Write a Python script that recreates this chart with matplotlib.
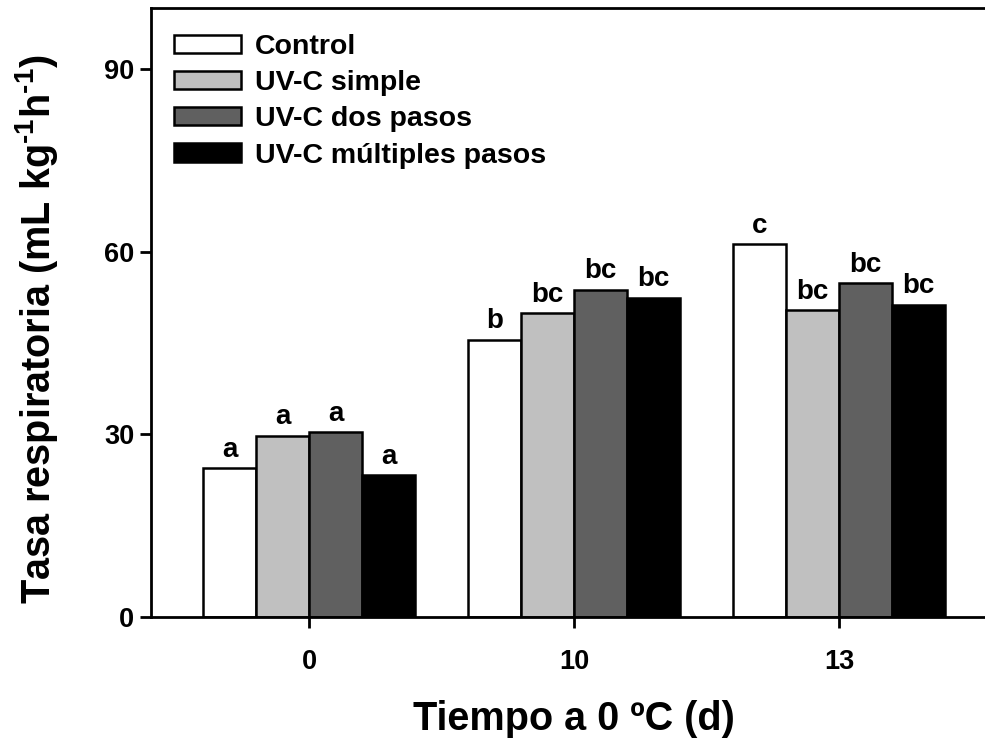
import matplotlib
matplotlib.use("Agg")
import matplotlib.pyplot as plt
import numpy as np

plt.rcParams['font.family'] = ['Liberation Sans', 'DejaVu Sans']
plt.rcParams['font.weight'] = 'bold'
plt.rcParams['mathtext.fontset'] = 'custom'
plt.rcParams['mathtext.rm'] = 'Liberation Sans:bold'
plt.rcParams['mathtext.it'] = 'Liberation Sans:bold'
plt.rcParams['mathtext.bf'] = 'Liberation Sans:bold'
plt.rcParams['mathtext.default'] = 'rm'

days = ["0", "10", "13"]
series = ["Control", "UV-C simple", "UV-C dos pasos", "UV-C múltiples pasos"]
control = [24.4, 45.5, 61.2]
uvc_simple = [29.8, 49.9, 50.4]
uvc_dos = [30.3, 53.7, 54.8]
uvc_multi = [23.3, 52.4, 51.3]
letters = [["a", "b", "c"], ["a", "bc", "bc"], ["a", "bc", "bc"], ["a", "bc", "bc"]]
colors = ["#ffffff", "#c0c0c0", "#606060", "#000000"]

values = [control, uvc_simple, uvc_dos, uvc_multi]

fig = plt.figure(figsize=(9.85, 7.38), dpi=100)
ax = fig.add_axes([151/985, 121/738, 846/985, 609/738])

x = np.arange(len(days))
w = 0.2
for i, (vals, name, col) in enumerate(zip(values, series, colors)):
    pos = x + (i - 1.5) * w
    ax.bar(pos, vals, width=w, color=col, edgecolor='black', linewidth=1.8, label=name)
    for xp, v, lt in zip(pos, vals, letters[i]):
        ax.annotate(lt, (xp, v), xytext=(0, 4), textcoords='offset points',
                    ha='center', va='bottom', fontsize=20, fontweight='bold')

ax.set_xlim(-0.596, 2.596)
ax.set_ylim(0, 100)
ax.set_xticks(x)
ax.set_xticklabels(days)
ax.set_yticks([0, 30, 60, 90])
ax.tick_params(axis='both', direction='out', length=8, width=2, labelsize=19.5)
ax.tick_params(axis='x', pad=15)
ax.tick_params(axis='y', pad=4)
for lab in ax.get_xticklabels() + ax.get_yticklabels():
    lab.set_fontweight('bold')
ax.spines['right'].set_visible(False)
for s in ['left', 'top', 'bottom']:
    ax.spines[s].set_linewidth(2)

ax.set_xlabel("Tiempo a 0 ºC (d)", fontsize=28.5, fontweight='bold', labelpad=18)
ax.set_ylabel(r"Tasa respiratoria (mL kg$^{\text{-1}}$h$^{\text{-1}}$)", fontsize=28.5,
              fontweight='bold')
ax.yaxis.set_label_coords(-0.1076, 0.473)

leg = ax.legend(loc='upper left', bbox_to_anchor=(0.0, 0.995), frameon=False,
                prop={'size': 20.5, 'weight': 'bold'}, handlelength=2.35, handleheight=0.6,
                handletextpad=0.5, labelspacing=0.36, borderaxespad=0.4)

fig.savefig("out.png", dpi=100)
